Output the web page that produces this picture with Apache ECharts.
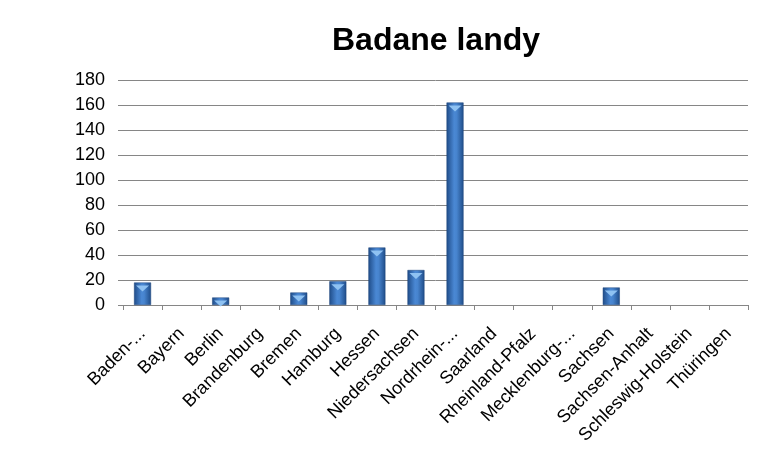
<!DOCTYPE html>
<html>
<head>
<meta charset="utf-8">
<script src="https://cdn.jsdelivr.net/npm/echarts@6/dist/echarts.min.js"></script>
<style>html,body{margin:0;padding:0;background:#fff}#c{width:761px;height:466px}</style>
</head>
<body>
<div id="c"></div>
<script>
const titleText = 'Badane landy';
const categories = ['Baden-...', 'Bayern', 'Berlin', 'Brandenburg', 'Bremen', 'Hamburg', 'Hessen', 'Niedersachsen', 'Nordrhein-...', 'Saarland', 'Rheinland-Pfalz', 'Mecklenburg-...', 'Sachsen', 'Sachsen-Anhalt', 'Schleswig-Holstein', 'Thüringen'];
const values = [18, 0, 6, 0, 10, 19, 46, 28, 162, 0, 0, 0, 14, 0, 0, 0];
const yTicks = { min: 0, max: 180, interval: 20 };

const chart = echarts.init(document.getElementById('c'));
const barGrad = new echarts.graphic.LinearGradient(0, 0, 1, 0, [
  { offset: 0, color: '#1f4c88' },
  { offset: 0.45, color: '#4a88d4' },
  { offset: 0.6, color: '#4784ce' },
  { offset: 1, color: '#1f4c88' }
]);
const shown = values.map(v => v > 0 ? v : '-');
chart.setOption({
  backgroundColor: '#ffffff',
  animation: false,
  title: {
    text: titleText,
    left: 431, top: 20, textAlign: 'center',
    textStyle: { fontFamily: 'Liberation Sans', fontWeight: 'bold', fontSize: 32, color: '#000' }
  },
  grid: { left: 123, right: 13, top: 80, bottom: 161, containLabel: false },
  xAxis: {
    type: 'category',
    data: categories,
    axisLine: { lineStyle: { color: '#868686', width: 1 } },
    axisTick: { show: true, length: 5, alignWithLabel: false, lineStyle: { color: '#868686' } },
    axisLabel: { rotate: 45, interval: 0, margin: 26, color: '#000', fontFamily: 'Liberation Sans', fontSize: 18 }
  },
  yAxis: {
    type: 'value',
    min: yTicks.min, max: yTicks.max, interval: yTicks.interval,
    axisLine: { show: false },
    axisTick: { show: true, length: 5, lineStyle: { color: '#868686' } },
    splitLine: { lineStyle: { color: '#868686', width: 1 } },
    axisLabel: { color: '#000', fontFamily: 'Liberation Sans', fontSize: 18, margin: 18 }
  },
  series: [
    {
      type: 'bar',
      data: shown,
      barWidth: 17,
      itemStyle: { color: barGrad, borderColor: '#1a4278', borderWidth: 0.5 },
      z: 2
    },
    {
      type: 'pictorialBar',
      data: shown,
      symbol: 'path://M0,0 L10,0 L5,5 Z',
      symbolSize: [13, 6],
      symbolPosition: 'end',
      symbolOffset: [0, '50%'],
      itemStyle: { color: '#8fc2f2' },
      z: 3,
      silent: true
    }
  ]
});
</script>
</body>
</html>
